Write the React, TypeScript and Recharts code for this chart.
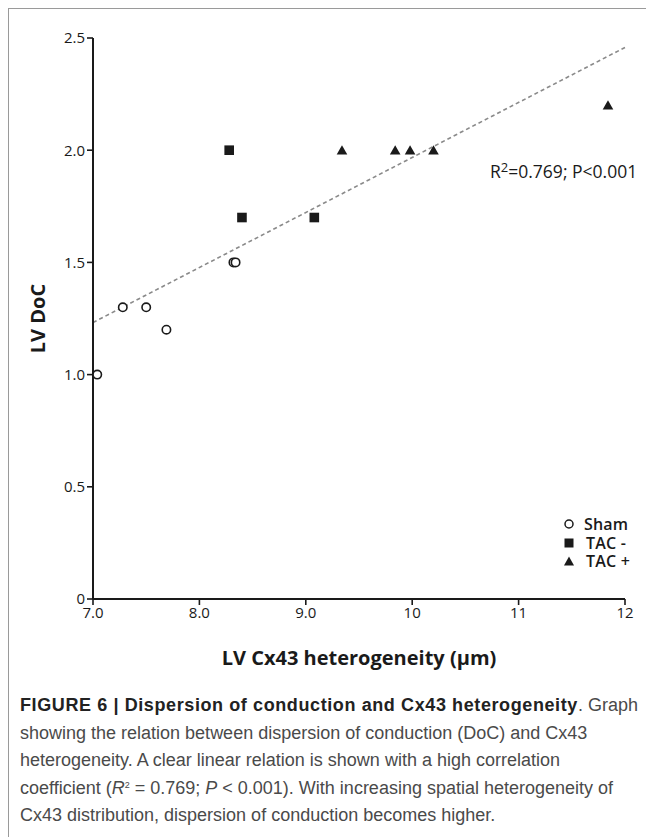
import {
  ReferenceLine,
  Scatter,
  ScatterChart,
  XAxis,
  YAxis,
} from "recharts";

// values
const shamX = [7.04, 7.28, 7.5, 7.69, 8.32, 8.34];
const shamY = [1.0, 1.3, 1.3, 1.2, 1.5, 1.5];
const tacMinusX = [8.28, 8.4, 9.08];
const tacMinusY = [2.0, 1.7, 1.7];
const tacPlusX = [9.34, 9.84, 9.98, 10.2, 11.84];
const tacPlusY = [2.0, 2.0, 2.0, 2.0, 2.2];
const fitX = [7, 12];
const fitY = [1.232, 2.458];

const xTicks = [7, 8, 9, 10, 11, 12];
const xTickLabels = ["7.0", "8.0", "9.0", "10", "11", "12"];
const yTicks = [0, 0.5, 1, 1.5, 2, 2.5];
const yTickLabels = ["0", "0.5", "1.0", "1.5", "2.0", "2.5"];

const legendNames = ["Sham", "TAC -", "TAC +"];

const toPoints = (xs: number[], ys: number[]) => xs.map((x, i) => ({ x, y: ys[i] }));

const sham = toPoints(shamX, shamY);
const tacMinus = toPoints(tacMinusX, tacMinusY);
const tacPlus = toPoints(tacPlusX, tacPlusY);
const fitLine = toPoints(fitX, fitY);

const font = '"Open Sans", sans-serif';
const ink = "#1a1a1a";

const OpenCircle = (props: any) => (
  <circle cx={props.cx} cy={props.cy} r={4.2} fill="#fff" stroke={ink} strokeWidth={1.6} />
);

const FilledSquare = (props: any) => (
  <rect x={props.cx - 4.8} y={props.cy - 4.8} width={9.6} height={9.6} fill={ink} />
);

const FilledTriangle = (props: any) => (
  <path
    d={`M${props.cx},${props.cy - 5} L${props.cx + 5.3},${props.cy + 4.3} L${props.cx - 5.3},${props.cy + 4.3} Z`}
    fill={ink}
  />
);

function LegendIcon({ index }: { index: number }) {
  return (
    <svg width={12} height={12} style={{ marginRight: 9 }}>
      {index === 0 && <circle cx={6} cy={6} r={4} fill="#fff" stroke={ink} strokeWidth={1.5} />}
      {index === 1 && <rect x={1.5} y={1.5} width={9} height={9} fill={ink} />}
      {index === 2 && <path d="M6,1.5 L11,10.5 L1,10.5 Z" fill={ink} />}
    </svg>
  );
}

function GroupLegend() {
  return (
    <div
      style={{
        position: "absolute",
        left: 554,
        top: 506,
        fontFamily: font,
        fontWeight: 600,
        fontSize: 16,
        color: ink,
        whiteSpace: "nowrap",
      }}
    >
      {legendNames.map((name, i) => (
        <div key={name} style={{ display: "flex", alignItems: "center", height: 18.5, lineHeight: "18.5px" }}>
          <LegendIcon index={i} />
          <span style={{ marginLeft: i === 0 ? 0 : 2, letterSpacing: 0.2 }}>{name}</span>
        </div>
      ))}
    </div>
  );
}

export default function App() {
  return (
    <div
      style={{
        position: "relative",
        width: 645,
        height: 828,
        borderTop: "1px solid #9a9a9a",
        borderLeft: "1px solid #9a9a9a",
        background: "#fff",
      }}
    >
      <ScatterChart width={645} height={680} margin={{ top: 29, right: 29, bottom: 0, left: 0 }}>
        <XAxis
          type="number"
          dataKey="x"
          domain={[7, 12]}
          ticks={xTicks}
          tickFormatter={(v: number) => xTickLabels[xTicks.indexOf(v)]}
          height={90}
          tickSize={6}
          tickMargin={2}
          axisLine={{ stroke: ink, strokeWidth: 2 }}
          tickLine={{ stroke: ink, strokeWidth: 1.6 }}
          tick={{ fill: ink, fontSize: 15, fontFamily: font }}
          label={{
            content: (p: any) => (
              <text
                x={p.viewBox.x + p.viewBox.width / 2}
                y={p.viewBox.y + 58}
                textAnchor="middle"
                dominantBaseline="central"
                fontFamily={font}
                fontWeight={700}
                fontSize={20}
                fill={ink}
              >
                LV Cx43 heterogeneity (µm)
              </text>
            ),
          }}
        />
        <YAxis
          type="number"
          dataKey="y"
          domain={[0, 2.5]}
          ticks={yTicks}
          tickFormatter={(v: number) => yTickLabels[yTicks.indexOf(v)]}
          width={84}
          tickSize={6}
          tickMargin={2}
          axisLine={{ stroke: ink, strokeWidth: 2 }}
          tickLine={{ stroke: ink, strokeWidth: 1.6 }}
          tick={{ fill: ink, fontSize: 15, fontFamily: font }}
          label={{
            content: (p: any) => {
              const cx = p.viewBox.x + 28;
              const cy = p.viewBox.y + p.viewBox.height / 2;
              return (
                <text
                  x={cx}
                  y={cy}
                  transform={`rotate(-90 ${cx} ${cy})`}
                  textAnchor="middle"
                  dominantBaseline="central"
                  fontFamily={font}
                  fontWeight={700}
                  fontSize={20}
                  fill={ink}
                >
                  LV DoC
                </text>
              );
            },
          }}
        />
        <ReferenceLine
          segment={fitLine}
          stroke="#8a8a8a"
          strokeWidth={1.6}
          strokeDasharray="4 3"
        />
        <Scatter name="Sham" data={sham} shape={OpenCircle} isAnimationActive={false} />
        <Scatter name="TAC -" data={tacMinus} shape={FilledSquare} isAnimationActive={false} />
        <Scatter name="TAC +" data={tacPlus} shape={FilledTriangle} isAnimationActive={false} />
      </ScatterChart>

      <GroupLegend />

      <div
        style={{
          position: "absolute",
          left: 481,
          top: 151,
          fontFamily: font,
          fontSize: 17.5,
          lineHeight: "22px",
          color: ink,
          whiteSpace: "nowrap",
        }}
      >
        R<sup style={{ fontSize: 13, verticalAlign: "6px", lineHeight: 0 }}>2</sup>=0.769; P&lt;0.001
      </div>

      <div
        style={{
          position: "absolute",
          left: 11,
          top: 683,
          fontFamily: '"Liberation Sans", Arial, sans-serif',
          fontSize: 18,
          lineHeight: "27.5px",
          color: "#4a4a4a",
          whiteSpace: "nowrap",
        }}
      >
        <b style={{ color: "#222", letterSpacing: 0.6 }}>
          FIGURE 6 | Dispersion of conduction and Cx43 heterogeneity
        </b>
        . Graph
        <br />
        showing the relation between dispersion of conduction (DoC) and Cx43
        <br />
        heterogeneity. A clear linear relation is shown with a high correlation
        <br />
        coefficient (<i>R</i>
        <sup style={{ fontSize: 9, verticalAlign: "6px", lineHeight: 0 }}>2</sup> = 0.769; <i>P</i> &lt; 0.001). With
        increasing spatial heterogeneity of
        <br />
        Cx43 distribution, dispersion of conduction becomes higher.
      </div>
    </div>
  );
}
